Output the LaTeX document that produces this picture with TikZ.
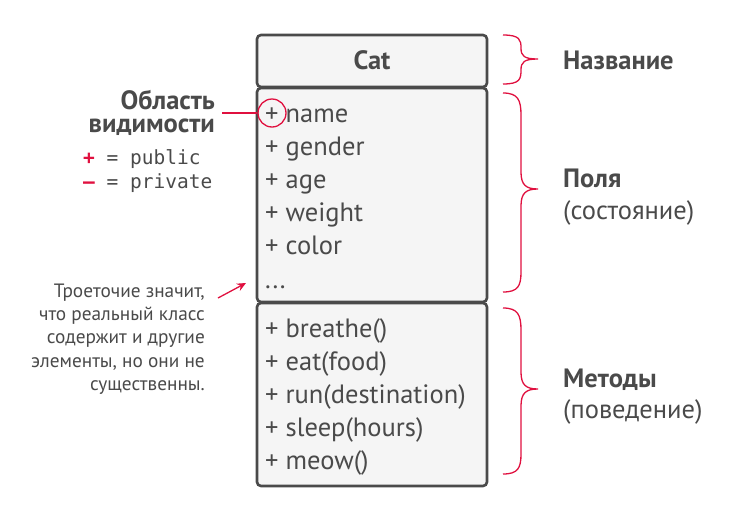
\documentclass[tikz,border=0pt]{standalone}
\usepackage{fontspec}
\setmainfont{PT Sans}
\setmonofont{DejaVu Sans Mono}
\usetikzlibrary{arrows.meta}
\definecolor{gk}{HTML}{4A4A4A}
\definecolor{rd}{HTML}{E0103F}
\definecolor{bx}{HTML}{F5F5F5}
\tikzset{
  compart/.style={draw=gk, fill=bx, line width=2.6pt, rounded corners=4pt},
  item/.style={anchor=base west, inner sep=0pt, text=gk, font=\fontsize{26.5}{26.5}\selectfont},
  lbl/.style={anchor=base west, inner sep=0pt, text=gk, font=\fontsize{26.5}{26.5}\selectfont},
  blbl/.style={anchor=base west, inner sep=0pt, text=gk, font=\fontsize{26.5}{26.5}\selectfont\bfseries},
  note/.style={anchor=base east, inner sep=0pt, text=gk, font=\fontsize{19.3}{19.3}\selectfont},
  mono/.style={anchor=base west, inner sep=0pt, text=gk, font=\fontsize{19.5}{19.5}\selectfont\ttfamily},
  brace/.style={draw=rd, line width=1.3pt},
}
\begin{document}
\begin{tikzpicture}[x=1pt,y=-1pt]
\useasboundingbox (0,0) rectangle (729,512);
% compartments
\draw[compart] (257,35) rectangle (487,87);
\draw[compart] (257,88) rectangle (487,302);
\draw[compart] (257,303) rectangle (487,486);
\node[blbl, anchor=base] (cat) at (372,69.5) {Cat};
% fields
\node[item] (f1) at (265,122) {+ name};
\node[item] (f2) at (265,155) {+ gender};
\node[item] (f3) at (265,188) {+ age};
\node[item] (f4) at (265,221) {+ weight};
\node[item] (f5) at (265,254) {+ color};
\node[item] (f6) at (265,288) {...};
% methods
\node[item] (m1) at (265,337) {+ breathe()};
\node[item] (m2) at (265,370) {+ eat(food)};
\node[item] (m3) at (265,403) {+ run(destination)};
\node[item] (m4) at (265,436) {+ sleep(hours)};
\node[item] (m5) at (265,469) {+ meow()};
% braces
\draw[brace] (503,35) .. controls (520,35) and (521,40) .. (521,48)
  .. controls (521,56) and (524,59) .. (538,59)
  .. controls (524,59) and (521,62) .. (521,70)
  .. controls (521,79) and (520,84) .. (503,84);
\draw[brace] (503,93) .. controls (518,93) and (521,100) .. (521,115)
  -- (521,172) .. controls (521,185) and (526,189) .. (538,189)
  .. controls (526,189) and (521,193) .. (521,206)
  -- (521,272) .. controls (521,286) and (518,292) .. (503,292);
\draw[brace] (503,308) .. controls (518,308) and (521,315) .. (521,330)
  -- (521,372) .. controls (521,385) and (526,389) .. (538,389)
  .. controls (526,389) and (521,393) .. (521,406)
  -- (521,454) .. controls (521,468) and (518,474) .. (503,474);
% right labels
\node[blbl] (nm) at (563,69) {Название};
\node[blbl] (pl) at (563,187) {Поля};
\node[lbl] (pls) at (563,219) {(состояние)};
\node[blbl] (mt) at (563,387) {Методы};
\node[lbl] (mts) at (563,418) {(поведение)};
% visibility
\node[anchor=north east, inner sep=0pt, align=right, text=gk,
      font=\fontsize{26.5}{23}\selectfont\bfseries] (ob) at (215,90) {Область\\видимости};
\node[draw=rd, line width=1.3pt, circle, minimum size=28pt, inner sep=0pt] (circ) at (272,113) {};
\draw[rd, line width=1.3pt] (222,113) -- (circ.west);
\node[mono] (pub) at (83,164) {\textcolor{rd}{\textbf{+}}\ =\ public};
\node[mono] (pri) at (83,188) {\textcolor{rd}{\textbf{–}}\ =\ private};
% note
\node[note] (n1) at (205,297) {Троеточие значит,};
\node[note] (n2) at (205,320) {что реальный класс};
\node[note] (n3) at (205,343) {содержит и другие};
\node[note] (n4) at (205,367) {элементы, но они не};
\node[note] (n5) at (205,390) {существенны.};
\coordinate (as) at (218,298);
\coordinate (ae) at (246,283);
\draw[rd, line width=1.3pt, -{Stealth[length=9pt,width=8pt]}] (as) -- (ae);
\end{tikzpicture}
\end{document}
